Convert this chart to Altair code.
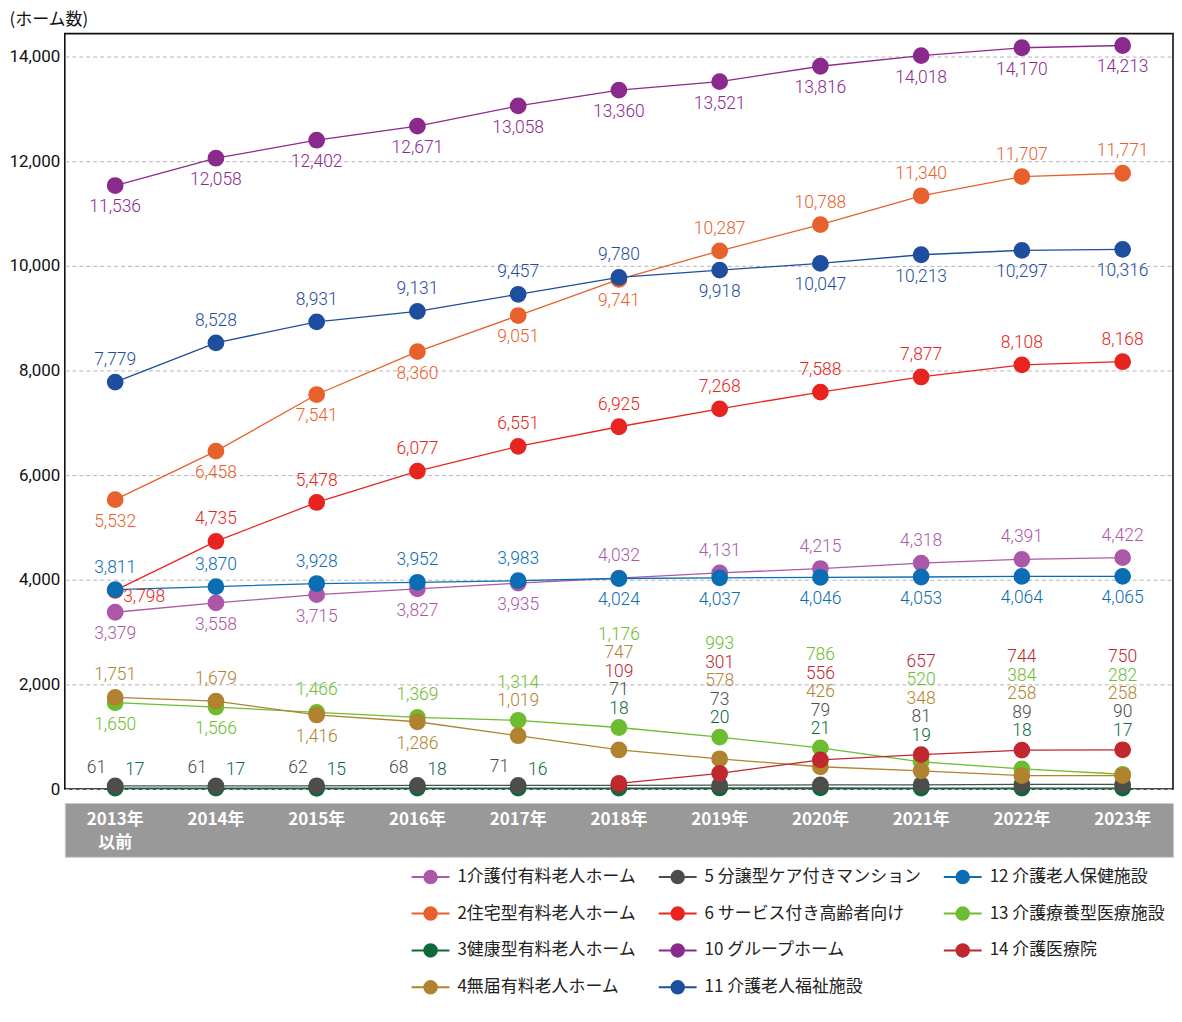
import altair as alt
import pandas as pd

# ---------------- data ----------------
years = ["2013年\n以前", "2014年", "2015年", "2016年", "2017年", "2018年",
         "2019年", "2020年", "2021年", "2022年", "2023年"]

keys = ["1", "2", "3", "4", "5", "6", "10", "11", "12", "13", "14"]
names = {
    "1": "1介護付有料老人ホーム",
    "2": "2住宅型有料老人ホーム",
    "3": "3健康型有料老人ホーム",
    "4": "4無届有料老人ホーム",
    "5": "5 分譲型ケア付きマンション",
    "6": "6 サービス付き高齢者向け",
    "10": "10 グループホーム",
    "11": "11 介護老人福祉施設",
    "12": "12 介護老人保健施設",
    "13": "13 介護療養型医療施設",
    "14": "14 介護医療院",
}
colors = {
    "1": "#ab58a8",
    "2": "#e8612c",
    "3": "#0b6a3a",
    "4": "#b1822f",
    "5": "#4d4d4d",
    "6": "#e72420",
    "10": "#8b2a8d",
    "11": "#1f4e9e",
    "12": "#0b6db3",
    "13": "#6cbd2f",
    "14": "#c0272f",
}

s1 = [3379, 3558, 3715, 3827, 3935, 4032, 4131, 4215, 4318, 4391, 4422]
s2 = [5532, 6458, 7541, 8360, 9051, 9741, 10287, 10788, 11340, 11707, 11771]
s3 = [17, 17, 15, 18, 16, 18, 20, 21, 19, 18, 17]
s4 = [1751, 1679, 1416, 1286, 1019, 747, 578, 426, 348, 258, 258]
s5 = [61, 61, 62, 68, 71, 71, 73, 79, 81, 89, 90]
s6 = [3798, 4735, 5478, 6077, 6551, 6925, 7268, 7588, 7877, 8108, 8168]
s10 = [11536, 12058, 12402, 12671, 13058, 13360, 13521, 13816, 14018, 14170, 14213]
s11 = [7779, 8528, 8931, 9131, 9457, 9780, 9918, 10047, 10213, 10297, 10316]
s12 = [3811, 3870, 3928, 3952, 3983, 4024, 4037, 4046, 4053, 4064, 4065]
s13 = [1650, 1566, 1466, 1369, 1314, 1176, 993, 786, 520, 384, 282]
s14 = [None, None, None, None, None, 109, 301, 556, 657, 744, 750]

values = {"1": s1, "2": s2, "3": s3, "4": s4, "5": s5, "6": s6,
          "10": s10, "11": s11, "12": s12, "13": s13, "14": s14}

# drawing order of the points (first = bottom)
draw_order = ["3", "5", "13", "4", "14", "1", "6", "12", "2", "11", "10"]
# stacked label order (bottom to top) for crowded years
stack_order = {
    4: ["4", "13"],
    5: ["3", "5", "14", "4", "13"],
    6: ["3", "5", "4", "14", "13"],
    7: ["3", "5", "4", "14", "13"],
    8: ["3", "5", "4", "13", "14"],
    9: ["3", "5", "4", "13", "14"],
    10: ["3", "5", "4", "13", "14"],
}


def placement(k, i):
    if k == "10":
        return "below"
    if k == "2":
        return "below" if i <= 5 else "above"
    if k == "11":
        return "above" if i <= 5 else "below"
    if k == "6":
        return "right" if i == 0 else "above"
    if k == "1":
        return "below" if i <= 4 else "above"
    if k == "12":
        return "above" if i <= 4 else "below"
    if k == "4":
        return ["above", "above", "below", "below"][i] if i < 4 else "stack"
    if k == "13":
        return ["below", "below", "above", "above"][i] if i < 4 else "stack"
    if k == "5":
        return "upleft" if i <= 4 else "stack"
    if k == "3":
        return "upright" if i <= 4 else "stack"
    return "stack"


rows = []
for k in keys:
    for i, (yr, v) in enumerate(zip(years, values[k])):
        if v is None:
            continue
        rows.append(dict(key=k, series=names[k], year=yr, idx=i, value=v,
                         pos=placement(k, i)))
df = pd.DataFrame(rows)
df["rank"] = -1
df["anchor"] = df["value"].astype(float)
for i, order in stack_order.items():
    members = df[(df.idx == i) & (df.key.isin(order))]
    anchor = members.value.max()
    for r, k in enumerate(order):
        m = (df.idx == i) & (df.key == k)
        df.loc[m, "rank"] = r
        df.loc[m, "anchor"] = anchor
df["z"] = df.key.map({k: n for n, k in enumerate(draw_order)})
df = df.sort_values(["z", "idx"]).reset_index(drop=True)

# ---------------- styling ----------------
JP = "Noto Sans CJK JP"
NUM = "Roboto, Noto Sans CJK JP, sans-serif"
W = 1112
H = 758
GAP = 14
BAND = 54


def cscale():
    return alt.Scale(domain=[names[k] for k in keys],
                     range=[colors[k] for k in keys])


x_scale = alt.Scale(type="point", padding=0.5, domain=years)
y_scale = alt.Scale(domain=[0, 14440], nice=False, zero=True)

y_axis = alt.Axis(values=list(range(0, 14001, 2000)), format=",d", grid=True,
                  gridDash=[4, 3], gridColor="#b5b5b5", gridWidth=1,
                  domain=False, ticks=False, labelFont=NUM, labelFontSize=17,
                  labelColor="#111111", labelPadding=5,
                  title="(ホーム数)", titleAngle=0, titleAlign="left",
                  titleBaseline="bottom", titleX=-56, titleY=-5,
                  titleFont=JP, titleFontSize=17, titleFontWeight="normal",
                  titleColor="#111111")

SYM = ("M-1,0L-0.33,0M0.33,0L1,0M-0.33,0A0.33,0.33,0,1,1,0.33,0"
       "A0.33,0.33,0,1,1,-0.33,0Z")


def make_legend():
    return alt.Legend(
        title=None, orient="none", legendX=347, legendY=H + GAP + BAND,
        columns=3, symbolType=SYM, symbolSize=1444, symbolStrokeWidth=2,
        labelFont=JP, labelFontSize=17, labelColor="#222222", labelOffset=7,
        labelLimit=400, rowPadding=6, columnPadding=18,
    )


base = alt.Chart(df)
X = alt.X("year:N", scale=x_scale, sort=years, axis=None)


def Y(field):
    return alt.Y(field + ":Q", scale=y_scale, axis=y_axis)


lines = base.mark_line(strokeWidth=1.3).encode(
    x=X, y=Y("value"),
    color=alt.Color("series:N", scale=cscale(), legend=None),
    order=alt.Order("idx:Q"),
)
points = base.mark_circle(size=220, opacity=1, strokeWidth=2).encode(
    x=X, y=Y("value"),
    fill=alt.Fill("series:N", scale=cscale(), legend=make_legend()),
    stroke=alt.Stroke("series:N", scale=cscale(), legend=make_legend()),
)


def text_layer(cond, yfield, align, dx, dy):
    return base.transform_filter(cond).mark_text(
        align=align, baseline="middle", dx=dx, dy=dy, font=NUM, fontSize=17.5,
        fontWeight=300,
    ).encode(
        x=X, y=Y(yfield),
        text=alt.Text("value:Q", format=",d"),
        color=alt.Color("series:N", scale=cscale(), legend=None),
    )


texts = [
    text_layer(alt.datum.pos == "below", "value", "center", 0, 22),
    text_layer(alt.datum.pos == "above", "value", "center", 0, -22),
    text_layer(alt.datum.pos == "right", "value", "left", 8, 7),
    text_layer(alt.datum.pos == "upleft", "value", "right", -9, -18),
    text_layer(alt.datum.pos == "upright", "value", "left", 10, -18),
]
for r in range(5):
    texts.append(text_layer((alt.datum.pos == "stack") & (alt.datum.rank == r),
                            "anchor", "center", 0, -19 - 18.5 * r))

main = alt.layer(lines, points, *texts).properties(
    width=W, height=H,
    view=alt.ViewBackground(stroke="#111111", strokeWidth=1.6),
)

band = alt.Chart(pd.DataFrame({"year": years})).mark_text(
    align="center", baseline="top", dy=-18, lineBreak="\n", lineHeight=23,
    color="white", font=JP, fontWeight="bold", fontSize=17,
).encode(
    x=alt.X("year:N", scale=x_scale, sort=years, axis=None),
    text="year:N",
).properties(
    width=W, height=BAND,
    view=alt.ViewBackground(fill="#999999", stroke="#c8c8c8", strokeWidth=1),
)

chart = alt.vconcat(main, band, spacing=GAP).resolve_scale(
    fill="independent", stroke="independent"
).resolve_legend(
    fill="independent", stroke="independent"
).properties(padding=0, background="white", bounds="flush")

chart.save("out.html", embed_options={"renderer": "svg", "actions": False})
